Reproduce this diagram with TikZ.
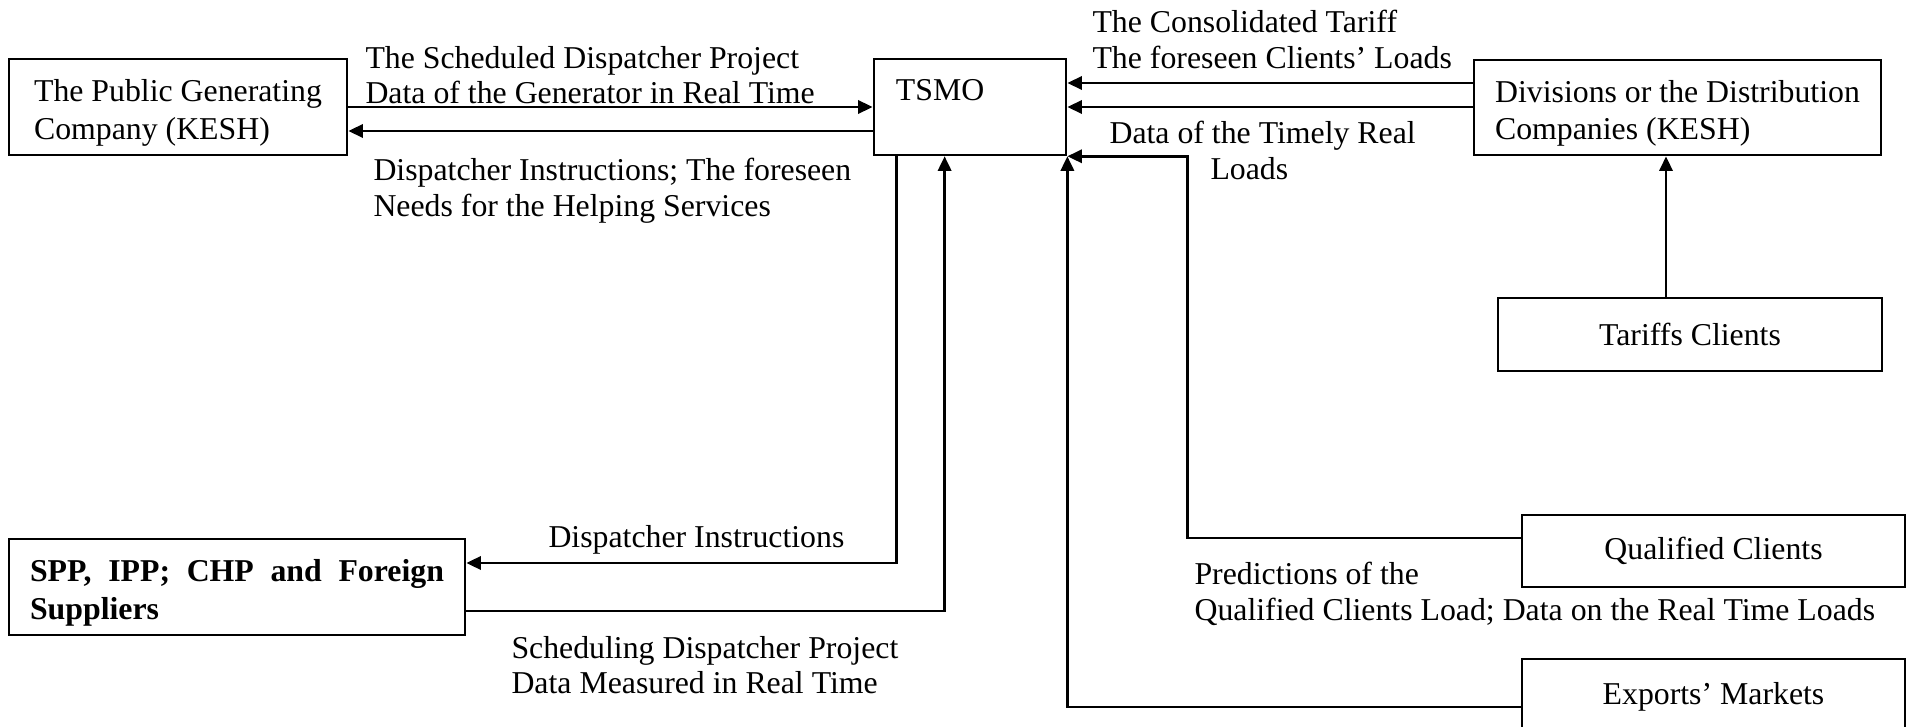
\documentclass[tikz,border=0pt]{standalone}
\usepackage{fontspec}
\setmainfont{Liberation Serif}
\usetikzlibrary{arrows.meta,calc}
\tikzset{
  box/.style={draw, line width=1pt, inner sep=0pt, font=\fontsize{12}{14}\selectfont},
  twoline/.style={align=left, text height=26.8pt, text depth=2.6pt},
  arr/.style={line width=1pt, -{Triangle[length=5.5pt,width=5pt]}},
  lbl/.style={inner sep=0pt, align=left, font=\fontsize{12}{13.3}\selectfont},
}

\begin{document}
\begin{tikzpicture}[x={(0.3774pt,0)}, y={(0,-0.3774pt)}]
			%%%%% START %%%%%
			\useasboundingbox (0,0) rectangle (1908,727);
			
			% boxes
			\node[box, twoline, minimum width=127.6pt, minimum height=36.2pt] (pub) at (178,107) {The Public Generating\\Company (KESH)};
			\node[box, align=left, text width=55.9pt, text height=15.5pt, text depth=20.7pt, minimum width=72.5pt] (tsmo) at (970,107) {TSMO};
			\node[box, twoline, minimum width=153.6pt, minimum height=35.9pt] (div) at (1677.5,107.5) {Divisions or the Distribution\\Companies (KESH)};
			\node[box, minimum width=144.9pt, minimum height=27.5pt] (tariff) at (1690,334.5) {Tariffs Clients};
			\node[box, minimum width=144.5pt, minimum height=27.2pt] (qual) at (1713.5,551) {Qualified Clients};
			\node[box, minimum width=144.5pt, minimum height=28.7pt] (exp) at (1713.5,697) {Exports' Markets};
			\node[box, font={\fontsize{12}{14}\selectfont\bfseries}, align=justify, text width=156.2pt, text height=12.8pt, text depth=16.6pt, minimum width=172.1pt, minimum height=36.2pt] (spp) at (237,587) {SPP, IPP; CHP and Foreign Suppliers};
			
			% arrows
			\draw[arr] (pub) -- (tsmo);
			\draw[arr] (tsmo.west |- 0,131) -- (pub.east |- 0,131);
			\draw[arr] (div.west |- 0,83) -- (tsmo.east |- 0,83);
			\draw[arr] (div.west |- 0,107) -- (tsmo.east |- 0,107);
			\draw[arr] (tariff.north -| 1666,0) -- (div.south -| 1666,0);
			\draw[arr] (qual.west |- 0,538) -| ($(tsmo.south east)+(120,0)$) -- (tsmo.south east);
			\draw[arr] (exp.west |- 0,707) -| (tsmo.south east);
			\draw[arr] ($(tsmo.south west)+(24,0)$) |- (spp.east |- 0,563);
			\draw[arr] (spp.east |- 0,611) -| ($(tsmo.south west)+(72,0)$);
			
			% labels
			\node[lbl, anchor=north west] (lsched) at (365,46) {The Scheduled Dispatcher Project\\Data of the Generator in Real Time};
			\node[lbl, anchor=north west] (linstr) at (373,158) {Dispatcher Instructions; The foreseen\\Needs for the Helping Services};
			\node[lbl, anchor=north west] (ltariff) at (1092,10) {The Consolidated Tariff\\The foreseen Clients' Loads};
			\node[lbl, anchor=north west] (ltimely) at (1109,121) {Data of the Timely Real\\\hspace*{38.1pt}Loads};
			\node[lbl, anchor=base west] (ldisp) at (548,547) {Dispatcher Instructions};
			\node[lbl, anchor=north west] (lproj) at (511,636) {Scheduling Dispatcher Project\\Data Measured in Real Time};
			\node[lbl, anchor=north west] (lpred) at (1194,562) {Predictions of the\\Qualified Clients Load; Data on the Real Time Loads};
			
			%%%%% END %%%%%
\end{tikzpicture}
\end{document}
